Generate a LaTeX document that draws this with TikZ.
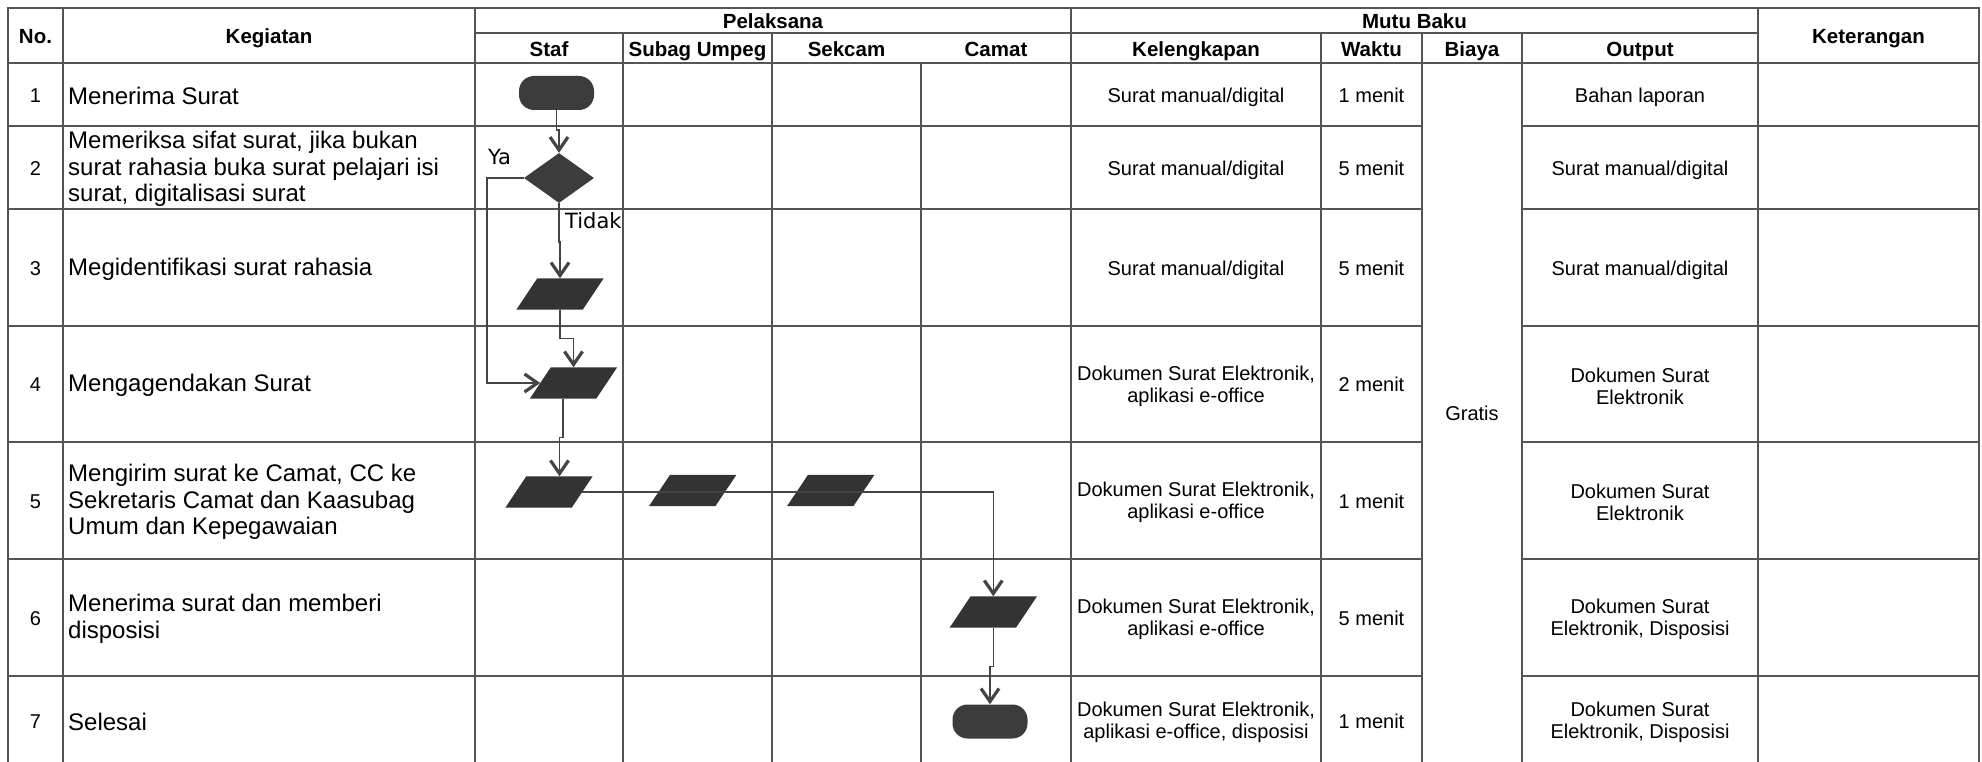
\documentclass[tikz,border=0pt]{standalone}
\usepackage{fontspec}
\setmainfont{Liberation Sans}
\newfontfamily\dejavu{DejaVu Sans}
\usetikzlibrary{arrows.meta,calc,shapes.geometric}
\definecolor{gridc}{HTML}{555555}
\definecolor{linec}{HTML}{444444}
\definecolor{shapec}{HTML}{3C3C3C}
\definecolor{parac}{HTML}{333333}
\newcommand\parashape[3]{%
  \node[pbox] (#1) at (#2,#3) {};
  \fill[parac] (#1.south west) -- ($(#1.south east)+(-21pt,0pt)$) -- (#1.north east) -- ($(#1.north west)+(21pt,0pt)$) -- cycle;
  \coordinate (#1-l) at ($(#1.west)+(10.5pt,0pt)$);
  \coordinate (#1-r) at ($(#1.east)+(-10.5pt,0pt)$);
}
\begin{document}
\begin{tikzpicture}[x=1pt,y=-1pt,
 grid/.style={draw=gridc, line width=1.6pt, line cap=rect},
 conn/.style={draw=linec, line width=1.5pt, -{Straight Barb[length=13pt,width=18pt,line width=3.2pt]}},
 hd/.style={font=\fontsize{20.5}{22}\selectfont\bfseries, inner sep=0pt, text=black, text height=14.7pt, text depth=4.3pt, yshift=-3.3pt},
 cell/.style={font=\fontsize{20}{22}\selectfont, align=center, inner sep=0pt, text=black, yshift=-2.3pt},
 scell/.style={font=\fontsize{20}{22}\selectfont, inner sep=0pt, text=black, text height=14.3pt, text depth=4.2pt, yshift=-2.8pt},
 keg/.style={font=\fontsize{24}{26.5}\selectfont, align=left, anchor=west, inner sep=0pt, text=black, yshift=-1.5pt},
 term/.style={rectangle, rounded corners=15pt, fill=shapec, minimum width=75pt, minimum height=34pt, inner sep=0pt},
 dec/.style={diamond, fill=shapec, minimum width=70pt, minimum height=50pt, inner sep=0pt},
 pbox/.style={minimum width=87pt, minimum height=31pt, inner sep=0pt},
 lbl/.style={font=\dejavu\fontsize{21}{24}\selectfont, anchor=base west, inner sep=0pt, text=black},
]
\useasboundingbox[fill=white] (0,0) rectangle (1982,762);

% grid
\draw[grid] (8,8) -- (1979,8);
\draw[grid] (475,33) -- (1758,33);
\draw[grid] (8,63) -- (1979,63);
\foreach \y in {126,209,326,442,559,676} {
  \draw[grid] (8,\y) -- (1422,\y);
  \draw[grid] (1522,\y) -- (1979,\y);
}
\foreach \x in {8,63,475,1071,1758,1979} \draw[grid] (\x,8) -- (\x,770);
\foreach \x in {623,772,1321,1422,1522} \draw[grid] (\x,33) -- (\x,770);
\draw[grid] (921,63) -- (921,770);

% header
\node[hd] (hno) at (35.5,35) {No.};
\node[hd] (hkeg) at (269,35) {Kegiatan};
\node[hd] (hpel) at (773,20) {Pelaksana};
\node[hd] (hmutu) at (1414.5,20) {Mutu Baku};
\node[hd] (hket) at (1868.5,35) {Keterangan};
\node[hd] (hstaf) at (549,48) {Staf};
\node[hd] (hsub) at (697.5,48) {Subag Umpeg};
\node[hd] (hsek) at (846.5,48) {Sekcam};
\node[hd] (hcam) at (996,48) {Camat};
\node[hd] (hkel) at (1196,48) {Kelengkapan};
\node[hd] (hwak) at (1371.5,48) {Waktu};
\node[hd] (hbia) at (1472,48) {Biaya};
\node[hd] (hout) at (1640,48) {Output};

% numbers
\node[scell] (n1) at (35.5,94.5) {1};
\node[scell] (n2) at (35.5,167.5) {2};
\node[scell] (n3) at (35.5,267.5) {3};
\node[scell] (n4) at (35.5,384) {4};
\node[scell] (n5) at (35.5,500.5) {5};
\node[scell] (n6) at (35.5,617.5) {6};
\node[scell] (n7) at (35.5,720.5) {7};

% kegiatan
\node[keg] (k1) at (68,94.5) {Menerima Surat};
\node[keg] (k2) at (68,167.5) {Memeriksa sifat surat, jika bukan\\surat rahasia buka surat pelajari isi\\surat, digitalisasi surat};
\node[keg] (k3) at (68,267.5) {Megidentifikasi surat rahasia};
\node[keg] (k4) at (68,384) {Mengagendakan Surat};
\node[keg] (k5) at (68,500.5) {Mengirim surat ke Camat, CC ke\\Sekretaris Camat dan Kaasubag\\Umum dan Kepegawaian};
\node[keg] (k6) at (68,617.5) {Menerima surat dan memberi\\disposisi};
\node[keg] (k7) at (68,720.5) {Selesai};

% kelengkapan
\node[scell] (c1) at (1196,94.5) {Surat manual/digital};
\node[scell] (c2) at (1196,167.5) {Surat manual/digital};
\node[scell] (c3) at (1196,267.5) {Surat manual/digital};
\node[cell] (c4) at (1196,384) {Dokumen Surat Elektronik,\\aplikasi e-office};
\node[cell] (c5) at (1196,500.5) {Dokumen Surat Elektronik,\\aplikasi e-office};
\node[cell] (c6) at (1196,617.5) {Dokumen Surat Elektronik,\\aplikasi e-office};
\node[cell] (c7) at (1196,720.5) {Dokumen Surat Elektronik,\\aplikasi e-office, disposisi};

% waktu
\node[scell] (w1) at (1371.5,94.5) {1 menit};
\node[scell] (w2) at (1371.5,167.5) {5 menit};
\node[scell] (w3) at (1371.5,267.5) {5 menit};
\node[scell] (w4) at (1371.5,384) {2 menit};
\node[scell] (w5) at (1371.5,500.5) {1 menit};
\node[scell] (w6) at (1371.5,617.5) {5 menit};
\node[scell] (w7) at (1371.5,720.5) {1 menit};

% biaya
\node[scell] (gratis) at (1472,413) {Gratis};

% output
\node[scell] (o1) at (1640,94.5) {Bahan laporan};
\node[scell] (o2) at (1640,167.5) {Surat manual/digital};
\node[scell] (o3) at (1640,267.5) {Surat manual/digital};
\node[cell] (o4) at (1640,384) {Dokumen Surat\\Elektronik};
\node[cell] (o5) at (1640,500.5) {Dokumen Surat\\Elektronik};
\node[cell] (o6) at (1640,617.5) {Dokumen Surat\\Elektronik, Disposisi};
\node[cell] (o7) at (1640,720.5) {Dokumen Surat\\Elektronik, Disposisi};

% flow shapes
\node[term] (t1) at (556.5,93) {};
\node[dec] (d1) at (559,178) {};
\parashape{p3}{560}{294}
\parashape{p4}{573.5}{383}
\parashape{p5a}{549}{492}
\parashape{p5b}{692.7}{490.5}
\parashape{p5c}{830.7}{490.5}
\parashape{p6}{993.3}{612}
\node[term] (t2) at (990,721.5) {};

% connectors
\draw[conn] (t1.south) -- ++(0,20) -| (d1.north);
\draw[conn] (d1.south) -- ++(0,39) -| (p3.north);
\draw[conn] (p3.south) -- ++(0,29) -| (p4.north);
\draw[conn] (d1.west) -- ++(-37,0) |- (p4-l);
\draw[conn] ($(p4.south)+(-10.5pt,0pt)$) -- ++(0,39) -| ($(p5a.north)+(10.5pt,0pt)$);
\draw[conn] (p5a-r) -| (p6.north);
\draw[conn] (p6.south) -- ++(0,39) -| (t2.north);

% labels
\node[lbl] (ya) at (488,165) {Ya};
\node[lbl] (tidak) at (565,228.3) {Tidak};
\end{tikzpicture}
\end{document}
